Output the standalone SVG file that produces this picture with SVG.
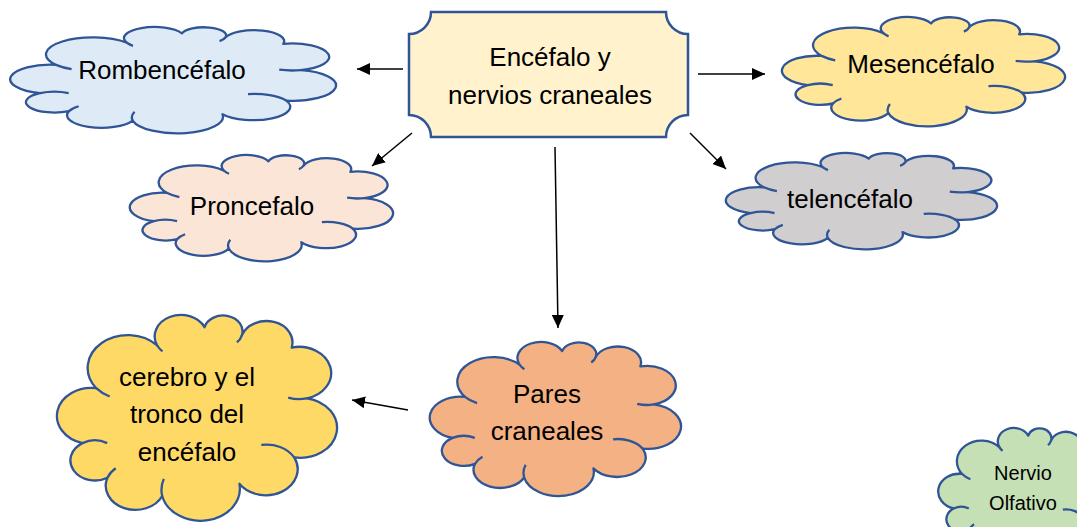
<svg xmlns="http://www.w3.org/2000/svg" xmlns:xlink="http://www.w3.org/1999/xlink" width="1077" height="527" viewBox="0 0 1077 527">
<style>
.cl{stroke:#2F5597;stroke-width:2.3;stroke-linejoin:round}
.t{font-family:"Liberation Sans",Arial,sans-serif;font-size:26px;fill:#000;text-anchor:middle}
.ts{font-family:"Liberation Sans",Arial,sans-serif;font-size:20px;fill:#000;text-anchor:middle}
.ar{stroke:#000;stroke-width:1.5;fill:none;marker-end:url(#ah)}
</style>
<defs>
<marker id="ah" markerUnits="userSpaceOnUse" markerWidth="14" markerHeight="12" refX="13" refY="6" orient="auto">
<path d="M0,0 L13,6 L0,12 Z" fill="#000"/>
</marker>
<g id="cloud">
<path vector-effect="non-scaling-stroke" d="M9.5,34 A16.15,16.15 0 0 1 34,13 A10.5,10.5 0 0 1 53,4 A7.75,7.75 0 0 1 68,8 A10.45,10.45 0 0 1 88,14 A12.85,12.85 0 0 1 94,39 A14.7,14.7 0 0 1 89,68 A12.8,12.8 0 0 1 67,81 A15.8,15.8 0 0 1 36,87 A11.9,11.9 0 0 1 14,78 A9.85,9.85 0 0 1 4,61 A13.8,13.8 0 0 1 9.5,34 Z"/>
<path vector-effect="non-scaling-stroke" fill="none" d="M14.9,38.1 A16.15,16.15 0 0 1 9.5,34 M4,61 A9.85,9.85 0 0 1 13.9,61 M75.8,61.9 A12.8,12.8 0 0 1 89,68 M36.1,15.9 A10.5,10.5 0 0 1 34,13 M68,8 A7.75,7.75 0 0 1 66,11.5 M94,39 A12.85,12.85 0 0 1 86.6,38.6 M36,87 A15.8,15.8 0 0 1 36.65,78.6 M14,78 A11.9,11.9 0 0 1 17.35,73.4"/>
</g>
</defs>
<rect width="1077" height="527" fill="#fff"/>
<g id="connectors">
<line class="ar" x1="403" y1="69" x2="357" y2="69"/>
<line class="ar" x1="698" y1="74" x2="765" y2="74"/>
<line class="ar" x1="412" y1="133" x2="372" y2="166"/>
<line class="ar" x1="690" y1="133" x2="726" y2="169"/>
<line class="ar" x1="555" y1="147" x2="558" y2="328"/>
<line class="ar" x1="408" y1="410" x2="352" y2="400"/>
</g>
<g id="encefalo">
<path d="M431,12 H666 A22,22 0 0 0 688,34 V115 A22,22 0 0 0 666,137 H431 A22,22 0 0 0 409,115 V34 A22,22 0 0 0 431,12 Z" fill="#FFF2CC" stroke="#2F5597" stroke-width="2.5"/>
<text class="t" x="550" y="66">Encéfalo y</text>
<text class="t" x="550" y="104">nervios craneales</text>
</g>
<g id="rombencefalo">
<use xlink:href="#cloud" class="cl" fill="#DEEBF7" transform="translate(8,27) scale(2.8962,1.0511) translate(7.05,2)"/>
<text class="t" x="162" y="79">Rombencéfalo</text>
</g>
<g id="mesencefalo">
<use xlink:href="#cloud" class="cl" fill="#FFE699" transform="translate(780,17) scale(2.5166,1.0806) translate(7.05,2)"/>
<text class="t" x="921" y="73">Mesencéfalo</text>
</g>
<g id="proncefalo">
<use xlink:href="#cloud" class="cl" fill="#FBE5D6" transform="translate(128,155) scale(2.34,1.0511) translate(7.05,2)"/>
<text class="t" x="252" y="215">Proncefalo</text>
</g>
<g id="telencefalo">
<use xlink:href="#cloud" class="cl" fill="#D0CECE" transform="translate(724,153) scale(2.4106,0.9528) translate(7.05,2)"/>
<text class="t" x="850" y="208">telencéfalo</text>
</g>
<g id="cerebro">
<use xlink:href="#cloud" class="cl" fill="#FFD966" transform="translate(55,315) scale(2.4901,2.0334) translate(7.05,2)"/>
<text class="t" x="187" y="386">cerebro y el</text>
<text class="t" x="187" y="423">tronco del</text>
<text class="t" x="187" y="461">encéfalo</text>
</g>
<g id="pares">
<use xlink:href="#cloud" class="cl" fill="#F4B183" transform="translate(428,342) scale(2.234,1.5226) translate(7.05,2)"/>
<text class="t" x="547" y="403">Pares</text>
<text class="t" x="547" y="440">craneales</text>
</g>
<g id="nervio-olfativo">
<use xlink:href="#cloud" class="cl" fill="#C5E0B4" transform="translate(937,428) scale(1.5188,1.277) translate(7.05,2)"/>
<text class="ts" x="1023" y="480">Nervio</text>
<text class="ts" x="1023" y="510">Olfativo</text>
</g>
</svg>
